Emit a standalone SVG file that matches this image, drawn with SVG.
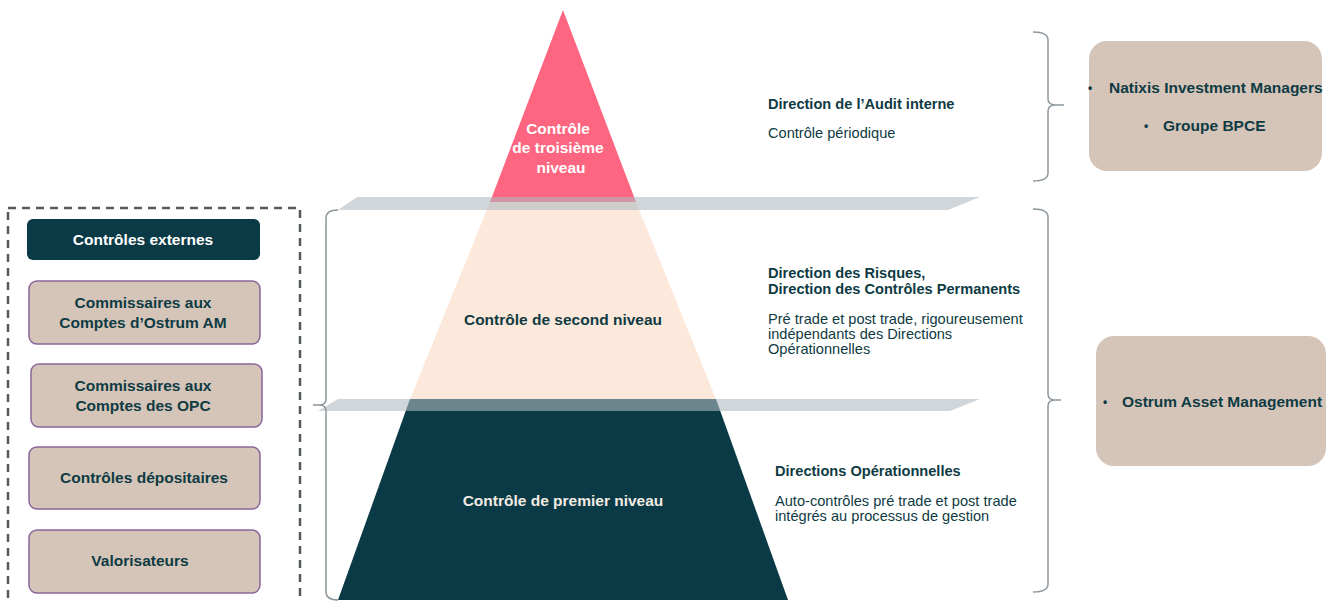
<svg xmlns="http://www.w3.org/2000/svg" width="1326" height="602" viewBox="0 0 1326 602">
<style>
.t{font-family:"Liberation Sans",Arial,sans-serif;fill:#0e3b43}
.b{font-weight:bold}
.lbl{font-size:15.5px;font-weight:bold;text-anchor:middle}
.rt{font-size:14.6px}
.rb{font-size:15.5px;font-weight:bold}
.w{fill:#ffffff}
.box{fill:#d5c5b9;stroke:#8a659a;stroke-width:1.5}
.rbox{fill:#d5c5b9}
.band{fill:rgb(175,185,192);fill-opacity:0.59}
.brace{fill:none;stroke:#8d979c;stroke-width:1.5}
</style>
<rect width="1326" height="602" fill="#ffffff"/>

<g id="pyramid">
  <polygon id="level3" points="563,10 636,202 490,202" fill="#fe6580"/>
  <polygon id="level2" points="490,202 636,202 716,399 410,399" fill="#fde8dc"/>
  <polygon id="level1" points="410,399 716,399 788,600 338,600" fill="#0a3a45"/>
  <polygon class="band" points="357,197 980,197 948,210 338,210"/>
  <polygon class="band" points="338,399 980,399 950,411 318,411"/>
</g>

<g id="n-level3">
  <text class="t lbl w" x="558" y="134">Contrôle</text>
  <text class="t lbl w" x="558" y="153">de troisième</text>
  <text class="t lbl w" x="561" y="173">niveau</text>
</g>
<g id="n-level2">
  <text class="t lbl" x="563" y="325">Contrôle de second niveau</text>
</g>
<g id="n-level1">
  <text class="t lbl" style="fill:#f2ebe3" x="563" y="506">Contrôle de premier niveau</text>
</g>

<g id="d-level3">
  <text class="t rt b" x="768" y="109">Direction de l’Audit interne</text>
  <text class="t rt" x="768" y="138">Contrôle périodique</text>
</g>
<g id="d-level2">
  <text class="t rt b" x="768" y="278">Direction des Risques,</text>
  <text class="t rt b" x="768" y="294">Direction des Contrôles Permanents</text>
  <text class="t rt" x="768" y="324">Pré trade et post trade, rigoureusement</text>
  <text class="t rt" x="768" y="339">indépendants des Directions</text>
  <text class="t rt" x="768" y="354">Opérationnelles</text>
</g>
<g id="d-level1">
  <text class="t rt b" x="775" y="476">Directions Opérationnelles</text>
  <text class="t rt" x="775" y="506">Auto-contrôles pré trade et post trade</text>
  <text class="t rt" x="775" y="521">intégrés au processus de gestion</text>
</g>

<g id="external">
  <rect x="8" y="208" width="292" height="400" fill="none" stroke="#555a5c" stroke-width="2.5" stroke-dasharray="8,6"/>
  <g id="n-ext-title">
    <rect x="27" y="219" width="233" height="41" rx="6" fill="#0a3a45"/>
    <text class="t lbl w" x="143" y="245">Contrôles externes</text>
  </g>
  <g id="n-cac-ostrum">
    <rect class="box" x="29" y="281" width="231" height="63" rx="8"/>
    <text class="t lbl" x="143" y="308">Commissaires aux</text>
    <text class="t lbl" x="143" y="328">Comptes d’Ostrum AM</text>
  </g>
  <g id="n-cac-opc">
    <rect class="box" x="31" y="364" width="231" height="63" rx="8"/>
    <text class="t lbl" x="143" y="391">Commissaires aux</text>
    <text class="t lbl" x="143" y="411">Comptes des OPC</text>
  </g>
  <g id="n-depositaires">
    <rect class="box" x="29" y="447" width="231" height="62" rx="8"/>
    <text class="t lbl" x="144" y="483">Contrôles dépositaires</text>
  </g>
  <g id="n-valorisateurs">
    <rect class="box" x="29" y="530" width="231" height="63" rx="8"/>
    <text class="t lbl" x="140" y="566">Valorisateurs</text>
  </g>
</g>

<g id="n-natixis">
  <rect class="rbox" x="1089" y="41" width="233" height="130" rx="18"/>
  <text class="t b" style="font-size:12px" x="1088" y="92">•</text>
  <text class="t rb" x="1109" y="93">Natixis Investment Managers</text>
  <text class="t b" style="font-size:12px" x="1144" y="130">•</text>
  <text class="t rb" x="1163" y="131">Groupe BPCE</text>
</g>
<g id="n-ostrum">
  <rect class="rbox" x="1096" y="336" width="230" height="130" rx="18"/>
  <text class="t b" style="font-size:12px" x="1103" y="406">•</text>
  <text class="t rb" x="1122" y="407">Ostrum Asset Management</text>
</g>

<g id="connectors">
  <path class="brace" d="M1033,32 Q1048,32 1048,40 L1048,99 Q1048,105 1056,105 L1064,105 M1056,105 Q1048,105 1048,111 L1048,173 Q1048,181 1033,181"/>
  <path class="brace" d="M1033,209 Q1048,209 1048,217 L1048,394 Q1048,400 1055,400 L1061,400 M1055,400 Q1048,400 1048,406 L1048,584 Q1048,592 1033,592"/>
  <path class="brace" d="M338,210 Q326,210 326,218 L326,399 Q326,405 319,405 L313,405 M319,405 Q326,405 326,411 L326,592 Q326,600 338,600"/>
</g>
</svg>
